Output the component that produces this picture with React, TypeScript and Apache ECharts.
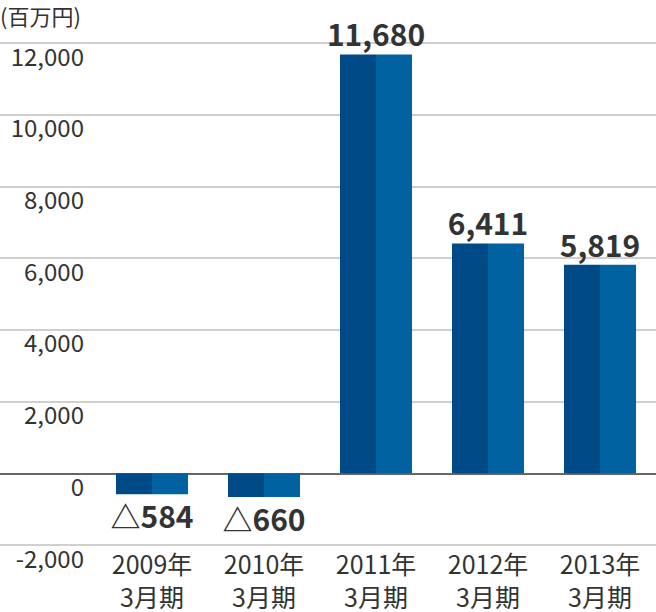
import React, { useEffect, useRef } from "react";
import * as echarts from "echarts";

const categories = ["2009年\n3月期", "2010年\n3月期", "2011年\n3月期", "2012年\n3月期", "2013年\n3月期"];
const netIncome = [-584, -660, 11680, 6411, 5819];
const yMin = -2000;
const yMax = 12000;
const yStep = 2000;
const unitLabel = "(百万円)";

const FONT = "'Noto Sans CJK JP', 'Noto Sans', sans-serif";
const fmt = (v: number) => v.toLocaleString("en-US");

export default function App() {
  const ref = useRef<HTMLDivElement>(null);
  useEffect(() => {
    if (!ref.current) return;
    const chart = echarts.init(ref.current, undefined, { renderer: "svg" });
    const darkData = netIncome.map((v) => ({
      value: v,
      label: { position: v < 0 ? "bottom" : "top" },
    }));
    chart.setOption({
      animation: false,
      textStyle: { fontFamily: FONT },
      graphic: [
        {
          type: "text",
          left: 0,
          top: 4,
          style: { text: unitLabel, fontSize: 22, fill: "#333", fontFamily: FONT },
        },
      ],
      grid: [
        { left: 0, right: 0, top: 43, bottom: 67, outerBoundsMode: "none", containLabel: false },
        { left: 96, right: 0, top: 43, bottom: 67, outerBoundsMode: "none", containLabel: false },
      ],
      xAxis: [
        {
          gridIndex: 0,
          type: "value",
          min: 0,
          max: 1,
          axisLine: { show: true, onZero: true, lineStyle: { color: "#666", width: 2 } },
          axisTick: { show: false },
          axisLabel: { show: false },
          splitLine: { show: false },
        },
        {
          gridIndex: 1,
          type: "category",
          data: categories,
          axisLine: { show: false, onZero: false },
          axisTick: { show: false },
          axisLabel: { fontSize: 25, lineHeight: 33, color: "#333", margin: 1, fontFamily: FONT },
          splitLine: { show: false },
        },
      ],
      yAxis: [
        {
          gridIndex: 0,
          type: "value",
          min: yMin,
          max: yMax,
          interval: yStep,
          axisLine: { show: false },
          axisTick: { show: false },
          axisLabel: { show: false },
          splitLine: { show: true, lineStyle: { color: "#cfcfcf", width: 2 } },
        },
        {
          gridIndex: 1,
          type: "value",
          min: yMin,
          max: yMax,
          interval: yStep,
          axisLine: { show: false },
          axisTick: { show: false },
          splitLine: { show: false },
          axisLabel: {
            formatter: (v: number) => fmt(v),
            align: "right",
            verticalAlign: "top",
            padding: [0, 0, 0, 0],
            lineHeight: 24,
            margin: 12,
            fontSize: 24,
            color: "#333",
            fontFamily: FONT,
          },
        },
      ],
      series: [
        {
          type: "bar",
          xAxisIndex: 1,
          yAxisIndex: 1,
          data: darkData,
          barWidth: 36,
          barGap: "0%",
          itemStyle: { color: "#004b87" },
          label: {
            show: true,
            distance: 6,
            offset: [18, 0],
            fontSize: 30,
            fontWeight: "bold",
            color: "#333",
            fontFamily: FONT,
            formatter: (p: any) => (p.value < 0 ? "△" + fmt(-p.value) : fmt(p.value)),
          },
        },
        {
          type: "bar",
          xAxisIndex: 1,
          yAxisIndex: 1,
          data: netIncome,
          barWidth: 36,
          barGap: "0%",
          itemStyle: { color: "#0062a1" },
        },
      ],
    });
    return () => chart.dispose();
  }, []);
  return <div ref={ref} style={{ width: 656, height: 612, position: "absolute", left: 0, top: 0 }} />;
}
